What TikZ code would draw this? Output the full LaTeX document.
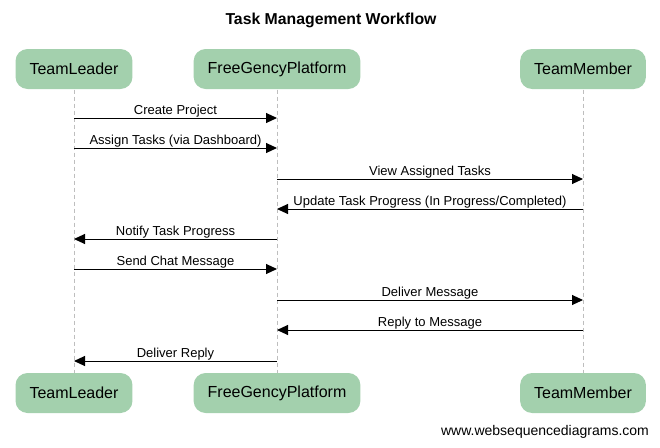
\documentclass[tikz,border=0pt]{standalone}
\usepackage{fontspec}
\setmainfont{Liberation Sans}
\usetikzlibrary{arrows.meta, positioning}
\definecolor{actorgreen}{RGB}{163,208,173}
\definecolor{lifegray}{RGB}{190,190,190}

\begin{document}
\begin{tikzpicture}[x=1pt,y=-1pt,>={Triangle[length=11pt,width=10pt]},line width=1pt,
    actor node/.style={rectangle,rounded corners=12pt,fill=actorgreen,minimum height=40pt,
      inner xsep=14pt,font=\fontsize{16}{18}\selectfont},
    life line/.style={draw=lifegray,dashed,dash pattern=on 4pt off 3pt,line width=0.8pt},
    msg/.style={->,draw=black},
    msg text/.style={above,inner sep=0.5pt,font=\fontsize{13}{15}\selectfont}]

\useasboundingbox (0,0) rectangle (660,447);

\node[font=\bfseries\fontsize{15.8}{18}\selectfont] (title) at (331,20) {Task Management Workflow};

% participants, top and bottom
\node[actor node] (TL)  at (74,69)   {TeamLeader};
\node[actor node] (FP)  at (277,69)  {FreeGencyPlatform};
\node[actor node] (TM)  at (583,69)  {TeamMember};
\node[actor node] (TLb) at (74,393)  {TeamLeader};
\node[actor node] (FPb) at (277,393) {FreeGencyPlatform};
\node[actor node] (TMb) at (583,393) {TeamMember};

\path[life line] (TL) -- (TLb) (FP) -- (FPb) (TM) -- (TMb);

% message rows
\coordinate (r1) at (0,118);
\coordinate (r2) at (0,148);
\coordinate (r3) at (0,179);
\coordinate (r4) at (0,209);
\coordinate (r5) at (0,239);
\coordinate (r6) at (0,269);
\coordinate (r7) at (0,300);
\coordinate (r8) at (0,330);
\coordinate (r9) at (0,361);

\draw[msg] (TL |- r1) -- node[msg text]{Create Project} (FP |- r1);
\draw[msg] (TL |- r2) -- node[msg text]{Assign Tasks (via Dashboard)} (FP |- r2);
\draw[msg] (FP |- r3) -- node[msg text]{View Assigned Tasks} (TM |- r3);
\draw[msg] (TM |- r4) -- node[msg text]{Update Task Progress (In Progress/Completed)} (FP |- r4);
\draw[msg] (FP |- r5) -- node[msg text]{Notify Task Progress} (TL |- r5);
\draw[msg] (TL |- r6) -- node[msg text]{Send Chat Message} (FP |- r6);
\draw[msg] (FP |- r7) -- node[msg text]{Deliver Message} (TM |- r7);
\draw[msg] (TM |- r8) -- node[msg text]{Reply to Message} (FP |- r8);
\draw[msg] (FP |- r9) -- node[msg text]{Deliver Reply} (TL |- r9);

\node[font=\fontsize{14}{16}\selectfont] (credit) at (545,432) {www.websequencediagrams.com};

\end{tikzpicture}
\end{document}
